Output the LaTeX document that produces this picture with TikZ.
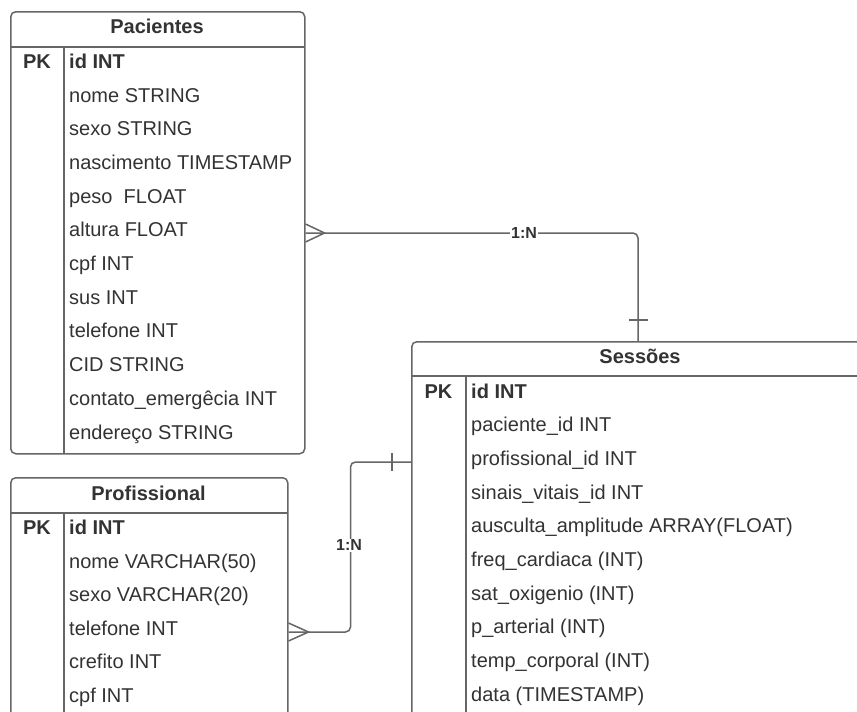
\documentclass[tikz,border=0pt]{standalone}
\usepackage{fontspec}
\setmainfont{Liberation Sans}
\usetikzlibrary{calc}
\definecolor{ln}{HTML}{666666}
\definecolor{tx}{HTML}{333333}
\tikzset{
  tbl/.style={draw=ln, line width=1.5pt, rounded corners=5pt, anchor=north west, inner sep=0pt, fill=white},
  sepline/.style={draw=ln, line width=1.5pt},
  fld/.style={anchor=base west, font=\fontsize{20}{24}\selectfont, text=tx, inner sep=0pt},
  pkfld/.style={anchor=base west, font=\fontsize{20}{24}\selectfont\bfseries, text=tx, inner sep=0pt},
  pklbl/.style={anchor=base, font=\fontsize{20}{24}\selectfont\bfseries, text=tx, inner sep=0pt},
  hdr/.style={anchor=base, font=\fontsize{20}{24}\selectfont\bfseries, text=tx, inner sep=0pt},
  conn/.style={draw=ln, line width=1.5pt, rounded corners=5pt},
  card/.style={draw=ln, line width=1.5pt},
  lbl/.style={fill=white, font=\fontsize{16}{18}\selectfont\bfseries, text=tx, inner sep=1pt},
}
\begin{document}
\begin{tikzpicture}[x=1pt,y=-1pt]
\useasboundingbox (0,0) rectangle (857,712);
\fill[white] (0,0) rectangle (857,712);
\clip (0,0) rectangle (857,712);

% ---------- Pacientes ----------
\node[tbl, minimum width=294pt, minimum height=442pt] (pac) at (10,11) {};
\draw[sepline] (10,47) -- (304,47);
\draw[sepline] (64,47) -- (64,453);
\node[hdr] (pacH) at (157,33.3) {Pacientes};
\node[pklbl] (pacPK) at (37,68.3) {PK};
\node[pkfld] (pac0) at (69,68.3) {id INT};
\foreach \t [count=\i] in {nome STRING, sexo STRING, nascimento TIMESTAMP, peso~~FLOAT, altura FLOAT, cpf INT, sus INT, telefone INT, CID STRING, contato\_emergêcia INT, endereço STRING}
  \node[fld] (pac\i) at (69,{68.3+\i*33.7}) {\t};

% ---------- Profissional ----------
\node[tbl, minimum width=277pt, minimum height=260pt] (pro) at (10,477) {};
\draw[sepline] (10,513) -- (287,513);
\draw[sepline] (64,513) -- (64,737);
\node[hdr] (proH) at (148.5,500) {Profissional};
\node[pklbl] (proPK) at (37,534.7) {PK};
\node[pkfld] (pro0) at (69,534.7) {id INT};
\foreach \t [count=\i] in {nome VARCHAR(50), sexo VARCHAR(20), telefone INT, crefito INT, cpf INT}
  \node[fld] (pro\i) at (69,{534.7+\i*33.5}) {\t};

% ---------- Sessoes ----------
\node[tbl, minimum width=458pt, minimum height=400pt] (ses) at (411,341) {};
\draw[sepline] (411,376) -- (869,376);
\draw[sepline] (466,376) -- (466,741);
\node[hdr] (sesH) at (640,363.3) {Sessões};
\node[pklbl] (sesPK) at (438.5,398.3) {PK};
\node[pkfld] (ses0) at (471,398.3) {id INT};
\foreach \t [count=\i] in {paciente\_id INT, profissional\_id INT, sinais\_vitais\_id INT, ausculta\_amplitude ARRAY(FLOAT), freq\_cardiaca (INT), sat\_oxigenio (INT), p\_arterial (INT), temp\_corporal (INT), data (TIMESTAMP)}
  \node[fld] (ses\i) at (471,{398.3+\i*33.67}) {\t};

% ---------- Connector Pacientes -> Sessoes ----------
\coordinate (p1) at ($(pac.north east)+(0,222)$);
\coordinate (s1) at ($(ses.north west)+(227,0)$);
\draw[conn] (p1) -| (s1);
\draw[card] ($(p1)+(0,-9)$) -- ($(p1)+(19,0)$) -- ($(p1)+(0,9)$);
\draw[card] ($(s1)+(-9,-21)$) -- ($(s1)+(10,-21)$);
\node[lbl] (l1) at (524,233) {1:N};

% ---------- Connector Profissional -> Sessoes ----------
\coordinate (q1) at ($(pro.north east)+(0,155)$);
\coordinate (s2) at ($(ses.north west)+(0,121)$);
\draw[conn] (q1) -- ++(62,0) |- (s2);
\draw[card] ($(q1)+(0,-9)$) -- ($(q1)+(20,0)$) -- ($(q1)+(0,9)$);
\draw[card] ($(s2)+(-19,-9)$) -- ($(s2)+(-19,9)$);
\node[lbl] (l2) at (349,545) {1:N};
\end{tikzpicture}
\end{document}
